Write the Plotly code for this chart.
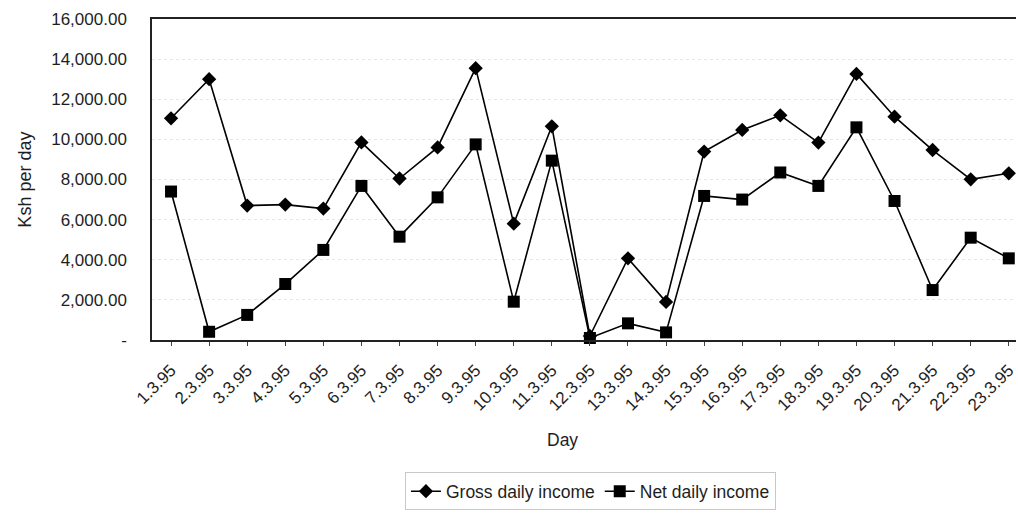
import plotly.graph_objects as go

days = ["1.3.95", "2.3.95", "3.3.95", "4.3.95", "5.3.95", "6.3.95", "7.3.95", "8.3.95",
        "9.3.95", "10.3.95", "11.3.95", "12.3.95", "13.3.95", "14.3.95", "15.3.95",
        "16.3.95", "17.3.95", "18.3.95", "19.3.95", "20.3.95", "21.3.95", "22.3.95", "23.3.95"]

gross_income = [11050, 13000, 6700, 6750, 6550, 9850, 8050, 9600, 13550, 5800, 10650, 200,
                4070, 1900, 9390, 10470, 11200, 9840, 13260, 11130, 9470, 8010, 8310]

net_income = [7400, 410, 1250, 2790, 4490, 7680, 5150, 7110, 9750, 1910, 8940, 100,
              830, 380, 7180, 7000, 8350, 7680, 10600, 6930, 2490, 5100, 4070]

y_tick_values = [0, 2000, 4000, 6000, 8000, 10000, 12000, 14000, 16000]
y_tick_labels = ["-", "2,000.00", "4,000.00", "6,000.00", "8,000.00", "10,000.00",
                 "12,000.00", "14,000.00", "16,000.00"]

FONT = "Liberation Sans, Arial, sans-serif"
TXT = "#1e1e1e"

fig = go.Figure()
fig.add_trace(go.Scatter(
    x=list(range(len(days))), y=gross_income, name="Gross daily income",
    mode="lines+markers",
    line=dict(color="black", width=1.6),
    marker=dict(symbol="diamond", size=11, color="black"),
    cliponaxis=False,
))
fig.add_trace(go.Scatter(
    x=list(range(len(days))), y=net_income, name="Net daily income",
    mode="lines+markers",
    line=dict(color="black", width=1.6),
    marker=dict(symbol="square", size=12, color="black"),
    cliponaxis=False,
))

fig.update_layout(
    width=1018, height=515,
    margin=dict(l=152, r=0, t=19, b=175),
    paper_bgcolor="white", plot_bgcolor="white",
    font=dict(family=FONT, size=17, color=TXT),
    showlegend=True,
    legend=dict(
        orientation="h",
        xref="container", yref="container",
        x=0.58, xanchor="center", y=0.046, yanchor="middle",
        bordercolor="#c8c8c8", borderwidth=1,
        font=dict(size=17.5, color=TXT),
        itemsizing="trace",
        tracegroupgap=0,
    ),
    annotations=[
        dict(text="Ksh per day", xref="paper", yref="paper", x=-0.148, y=0.5,
             xanchor="center", yanchor="middle", textangle=-90, showarrow=False,
             font=dict(size=18, color=TXT)),
        dict(text="Day", xref="paper", yref="paper", x=0.475, y=-0.31,
             xanchor="center", yanchor="middle", showarrow=False,
             font=dict(size=17.5, color=TXT)),
    ],
)

fig.update_xaxes(
    tickmode="array",
    tickvals=list(range(len(days))),
    ticktext=days,
    tickangle=-45,
    range=[-0.5, 22.19],
    showline=True, linecolor="#222", linewidth=1.5, mirror=True,
    ticks="outside", ticklen=4, tickcolor="#444",
    showgrid=False, zeroline=False,
    ticklabeloverflow="allow",
    ticklabelstandoff=8,
    tickfont=dict(size=17, color=TXT),
)
fig.update_yaxes(
    range=[0, 16000],
    tickmode="array",
    tickvals=y_tick_values,
    ticktext=y_tick_labels,
    showline=True, linecolor="#222", linewidth=1.5,
    ticks="", showgrid=True, gridcolor="#e6e6e6", griddash="dot", gridwidth=1,
    zeroline=False,
    ticklabelstandoff=20,
    tickfont=dict(size=17, color=TXT),
)

fig.write_html("out.html")
